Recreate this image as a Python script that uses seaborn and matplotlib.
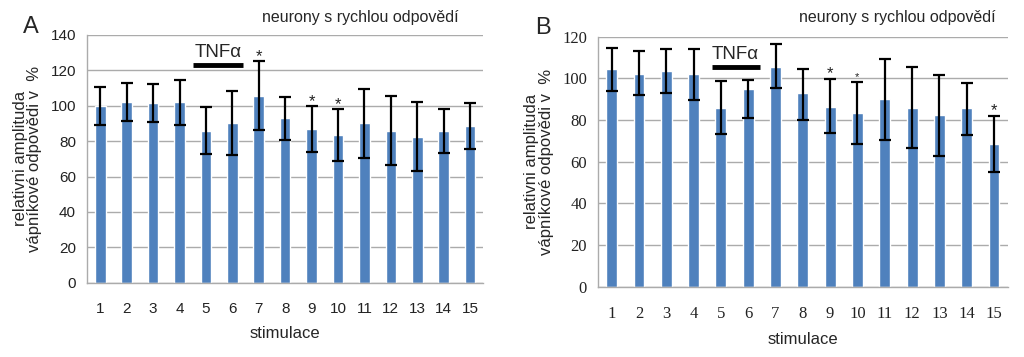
import numpy as np
import pandas as pd
import seaborn as sns
import matplotlib.pyplot as plt
from matplotlib.font_manager import FontProperties

# data
stimulace = [str(i) for i in range(1, 16)]

a_mean = [100, 102.2, 101.5, 101.9, 86, 90.1, 105.8, 92.9, 87.1, 83.6, 90.1, 86, 82.6, 85.6, 88.8]
a_err = [10.8, 10.8, 10.8, 12.7, 13.4, 18.1, 19.6, 12.3, 13, 14.7, 19.5, 19.5, 19.5, 12.4, 13]
a_stars = ["7", "9", "10"]

b_mean = [104.5, 102.2, 103.7, 102.2, 85.9, 94.7, 105.6, 92.8, 86.2, 83.4, 90.1, 85.9, 82.2, 85.6, 68.3]
b_err_lo = [10.4, 10.4, 10.7, 12.8, 12.8, 13.9, 10.1, 12.6, 12.6, 15.1, 19.7, 19.3, 19.3, 12.8, 13.4]
b_err_hi = [10.2, 10.9, 10.4, 12.0, 13.0, 4.5, 10.7, 11.8, 13.5, 14.8, 19.0, 19.4, 19.6, 12.3, 13.6]
b_stars = ["9", "10", "15"]

title = "neurony s rychlou odpovědí"
ylabel = "relativni amplituda\nvápníkové odpovědi v  %"

bar_color = "#4F81BD"
grid_color = "#ABABAB"

sns.set_style("white")
plt.rcParams["font.family"] = ["Liberation Sans", "DejaVu Sans"]

fig = plt.figure(figsize=(10.24, 3.57), dpi=100)
ax_a = fig.add_axes([0.085, 0.208, 0.387, 0.694])
ax_b = fig.add_axes([0.584, 0.197, 0.400, 0.700])


def draw_panel(ax, mean, err, stars, ymax, tick_font, star_sizes, tnf_x, tnf_y):
    df = pd.DataFrame({"stimulace": stimulace, "hodnota": mean})
    sns.barplot(data=df, x="stimulace", y="hodnota", color=bar_color,
                width=0.4, saturation=1, errorbar=None, ax=ax, zorder=2)
    pos = np.arange(len(stimulace))
    ax.errorbar(pos, mean, yerr=err, fmt="none", ecolor="black",
                elinewidth=1.6, capsize=4, capthick=1.6, zorder=3)

    hi = np.atleast_2d(err)[-1]
    for s, size in zip(stars, star_sizes):
        i = stimulace.index(s)
        ax.text(i, mean[i] + hi[i] + 2.5, "*", ha="center", va="center",
                fontsize=size, color="#222222")

    ax.set_xlim(-0.5, len(stimulace) - 0.5)
    ax.set_ylim(0, ymax)
    ax.set_yticks(np.arange(0, ymax + 1, 20))
    ax.yaxis.grid(True, color=grid_color, lw=1.0, zorder=0)
    ax.xaxis.grid(False)
    ax.set_axisbelow(True)

    for side in ["top", "right"]:
        ax.spines[side].set_visible(False)
    for side in ["left", "bottom"]:
        ax.spines[side].set_color(grid_color)
        ax.spines[side].set_linewidth(1.0)

    ax.set_xticks(np.arange(-0.5, len(stimulace), 1), minor=True)
    ax.tick_params(axis="x", which="major", length=0, pad=14)
    ax.tick_params(axis="x", which="minor", length=5, color=grid_color, direction="out")
    ax.tick_params(axis="y", length=5, color=grid_color, direction="out", pad=3)
    for lab in ax.get_xticklabels() + ax.get_yticklabels():
        lab.set_fontproperties(tick_font)
        lab.set_color("#222222")

    ax.set_xlabel("stimulace", fontsize=12, labelpad=7)
    ax.set_ylabel(ylabel, fontsize=12, linespacing=0.95, labelpad=6)

    ax.plot(tnf_x, [tnf_y, tnf_y], color="black", lw=3.5, solid_capstyle="butt",
            clip_on=False, zorder=4)
    ax.text(np.mean(tnf_x), tnf_y + ymax * 0.015, "TNFα", ha="center", va="bottom",
            fontsize=13.5)


sans_font = FontProperties(family="Liberation Sans", size=11)
serif_font = FontProperties(family="Liberation Serif", size=12)

draw_panel(ax_a, a_mean, a_err, a_stars, 140, sans_font, [12, 12, 12],
           [3.52, 5.42], 123)
draw_panel(ax_b, b_mean, [b_err_lo, b_err_hi], b_stars, 120, serif_font, [12, 8, 12],
           [3.66, 5.42], 105.4)

fig.text(0.352, 0.952, title, ha="center", va="center", fontsize=11.5)
fig.text(0.876, 0.950, title, ha="center", va="center", fontsize=11.5)
fig.text(0.030, 0.925, "A", ha="center", va="center", fontsize=17)
fig.text(0.530, 0.922, "B", ha="center", va="center", fontsize=17)

fig.savefig("out.png", dpi=100)
